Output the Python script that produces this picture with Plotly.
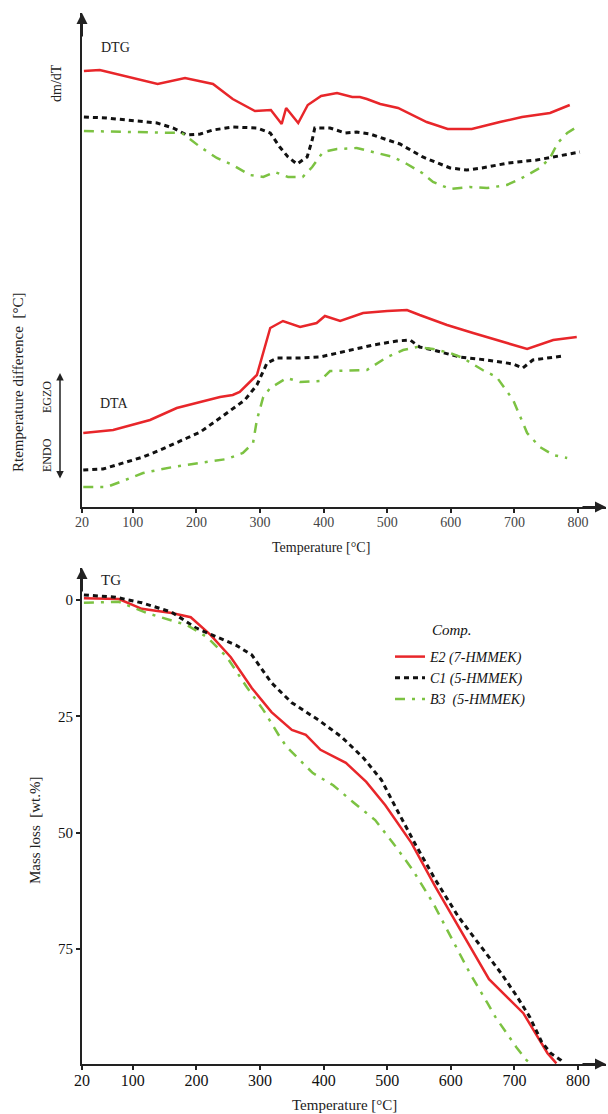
import plotly.graph_objects as go

# ---------------- data ----------------
series_names = ["E2 (7-HMMEK)", "C1 (5-HMMEK)", "B3  (5-HMMEK)"]
x_tick_vals = [20, 100, 200, 300, 400, 500, 600, 700, 800]
x_tick_text = ["20", "100", "200", "300", "400", "500", "600", "700", "800"]
tg_tick_vals = [0, 25, 50, 75]

# DTG (arbitrary units)
temp_dtg_e2 = [23, 48, 139, 182, 226, 257, 292, 317, 334, 341, 360, 375, 396, 421, 445, 457, 468, 489, 517, 562, 595, 633, 677, 712, 756, 787]
dtg_e2 = [436, 437, 423, 429, 423, 408, 396, 397, 383, 399, 384, 402, 411, 414, 410, 410, 408, 403, 399, 385, 378, 378, 385, 390, 394, 402]
temp_dtg_c1 = [23, 59, 138, 163, 185, 206, 226, 257, 295, 316, 331, 344, 358, 374, 382, 386, 410, 434, 452, 473, 496, 520, 556, 599, 625, 649, 690, 735, 761, 803]
dtg_c1 = [390, 389, 384, 379, 372, 373, 377, 380, 379, 374, 360, 350, 343, 350, 367, 379, 379, 374, 375, 373, 368, 363, 350, 339, 337, 339, 344, 347, 350, 355]
temp_dtg_b3 = [23, 100, 154, 177, 206, 232, 257, 284, 305, 323, 344, 360, 367, 382, 399, 421, 452, 484, 509, 531, 555, 572, 599, 630, 657, 688, 709, 740, 756, 768, 783, 798]
dtg_b3 = [376, 375, 374, 374, 360, 349, 342, 332, 330, 335, 330, 330, 330, 340, 355, 358, 359, 354, 350, 343, 334, 325, 318, 320, 319, 322, 328, 339, 349, 364, 374, 380]

# DTA (arbitrary units)
temp_dta_e2 = [22, 69, 127, 169, 206, 237, 257, 268, 295, 316, 336, 363, 389, 402, 426, 462, 500, 531, 551, 594, 635, 677, 720, 761, 798]
dta_e2 = [74, 77, 87, 99, 105, 110, 112, 115, 132, 179, 186, 180, 184, 191, 186, 194, 196, 197, 192, 182, 174, 166, 158, 167, 170]
temp_dta_c1 = [22, 53, 116, 143, 185, 206, 237, 257, 276, 295, 311, 327, 363, 394, 441, 478, 515, 536, 551, 572, 614, 657, 698, 713, 729, 751, 776]
dta_c1 = [37, 38, 50, 57, 69, 75, 89, 98, 107, 122, 144, 149, 149, 150, 157, 162, 166, 167, 160, 157, 150, 147, 143, 139, 147, 149, 151]
temp_dta_b3 = [22, 59, 80, 116, 163, 206, 248, 273, 289, 295, 305, 316, 342, 363, 394, 410, 468, 500, 525, 547, 572, 599, 619, 650, 672, 698, 720, 740, 761, 783]
dta_b3 = [20, 20, 25, 34, 40, 44, 48, 54, 64, 87, 110, 119, 129, 125, 126, 136, 137, 150, 157, 160, 158, 154, 149, 137, 130, 107, 74, 60, 52, 49]

# TG mass loss [wt.%]
temp_tg_e2 = [23, 78, 114, 161, 191, 222, 254, 287, 318, 350, 372, 395, 435, 467, 497, 538, 576, 617, 660, 714, 752, 766]
tg_e2 = [-0.4, -0.2, 1.9, 2.8, 3.7, 7.5, 12.3, 18.9, 24.1, 27.9, 29.0, 32.2, 35.0, 39.1, 44.1, 52.2, 61.7, 71.5, 81.5, 88.8, 97.4, 99.6]
temp_tg_c1 = [23, 73, 114, 161, 199, 224, 262, 287, 318, 350, 356, 392, 428, 463, 491, 513, 545, 576, 612, 648, 679, 703, 724, 743, 757, 773, 778]
tg_c1 = [-1.1, -0.6, 0.6, 2.6, 6.0, 7.5, 9.7, 11.8, 17.8, 22.1, 22.6, 25.8, 29.4, 34.0, 38.7, 44.5, 52.7, 60.2, 68.1, 74.6, 80.2, 85.0, 89.6, 95.0, 97.4, 98.9, 99.6]
temp_tg_b3 = [23, 78, 122, 185, 217, 248, 279, 305, 331, 342, 383, 415, 446, 481, 509, 540, 572, 603, 630, 657, 670, 703, 719, 724]
tg_b3 = [0.6, 0.4, 2.8, 5.4, 8.0, 12.3, 18.7, 23.6, 29.4, 31.6, 37.2, 39.8, 43.4, 47.3, 52.2, 58.0, 65.1, 73.1, 80.2, 86.5, 89.6, 96.1, 98.9, 99.5]

# ---------------- styles ----------------
FONT = "Liberation Serif"
RED, BLACK, GREEN = "#e8262a", "#111111", "#7cc242"
styles = [
    dict(color=RED, width=2.5, dash="solid"),
    dict(color=BLACK, width=3, dash="5px,4px"),
    dict(color=GREEN, width=2.5, dash="10px,7px,3px,7px"),
]

X_RANGE = [20, 844]
TOP_RANGE = [0, 494]
TG_RANGE = [99.72, -6.88]

fig = go.Figure()

top_sets = [(temp_dtg_e2, dtg_e2), (temp_dtg_c1, dtg_c1), (temp_dtg_b3, dtg_b3)]
dta_sets = [(temp_dta_e2, dta_e2), (temp_dta_c1, dta_c1), (temp_dta_b3, dta_b3)]
tg_sets = [(temp_tg_e2, tg_e2), (temp_tg_c1, tg_c1), (temp_tg_b3, tg_b3)]

for i, (xs, ys) in enumerate(top_sets):
    fig.add_trace(go.Scatter(x=xs, y=ys, mode="lines", line=styles[i], name=series_names[i],
                             legendgroup=str(i), showlegend=False, xaxis="x", yaxis="y"))
for i, (xs, ys) in enumerate(dta_sets):
    fig.add_trace(go.Scatter(x=xs, y=ys, mode="lines", line=styles[i], name=series_names[i],
                             legendgroup=str(i), showlegend=False, xaxis="x", yaxis="y"))
for i, (xs, ys) in enumerate(tg_sets):
    fig.add_trace(go.Scatter(x=xs, y=ys, mode="lines", line=styles[i],
                             name="<i>" + series_names[i] + "</i>",
                             legendgroup=str(i), showlegend=True, xaxis="x2", yaxis="y2"))

axis_common = dict(showline=True, linewidth=2, linecolor="#222", showgrid=False, zeroline=False,
                   ticks="outside", ticklen=4, tickwidth=1.5, tickcolor="#222")

H_PLOT = 1051.0
def py(p):
    return (1064 - p) / H_PLOT
def px(p):
    return (p - 82) / 524.0

fig.update_layout(
    width=608, height=1114,
    margin=dict(l=82, r=2, t=13, b=50),
    paper_bgcolor="white", plot_bgcolor="white",
    font=dict(family=FONT, color="#222"),
    xaxis=dict(domain=[0, 1], anchor="y", range=X_RANGE, tickvals=x_tick_vals, ticktext=x_tick_text,
               tickfont=dict(size=14, color="#444", family=FONT), ticklabelstandoff=-3, **axis_common),
    yaxis=dict(domain=[py(507), 1], anchor="x", range=TOP_RANGE, showticklabels=False,
               showline=True, linewidth=2, linecolor="#222", showgrid=False, zeroline=False, ticks=""),
    xaxis2=dict(domain=[0, 1], anchor="y2", range=X_RANGE, tickvals=x_tick_vals, ticktext=x_tick_text,
                tickfont=dict(size=16, color="#111", family=FONT), ticklabelstandoff=-3, **axis_common),
    yaxis2=dict(domain=[0, py(568)], anchor="x2", range=TG_RANGE, tickvals=tg_tick_vals,
                tickfont=dict(size=15, color="#111", family=FONT), **axis_common),
    legend=dict(x=px(390), y=py(641), xanchor="left", yanchor="top", bgcolor="rgba(0,0,0,0)",
                font=dict(family=FONT, size=14, color="#111"), tracegroupgap=0),
    showlegend=True,
)

ann = []
def text(t, x, y, size, angle=0, color="#222"):
    ann.append(dict(text=t, x=px(x), y=py(y), xref="paper", yref="paper", showarrow=False,
                    xanchor="center", yanchor="middle", textangle=angle,
                    font=dict(family=FONT, size=size, color=color)))

text("DTG", 115, 48, 14)
text("dm/dT", 56, 83, 14, -90)
text("Rtemperature difference  [°C]", 18, 383, 15, -90)
text("EGZO", 47, 397, 12, -90)
text("ENDO", 47, 455, 12, -90)
text("DTA", 114, 403, 14)
text("Temperature [°C]", 321, 548, 14)
text("TG", 111, 580, 15)
text("Mass loss  [wt.%]", 35, 830, 15, -90)
text("Temperature [°C]", 344, 1105, 15)
text("<i>Comp.</i>", 452, 630, 15, 0, "#111")

# double arrow ENDO/EGZO
ann.append(dict(text="", x=px(60), y=py(373), xref="paper", yref="paper", ax=0, ay=107,
                showarrow=True, arrowhead=2, startarrowhead=2, arrowside="end+start",
                arrowwidth=1.5, arrowsize=1, startarrowsize=1, arrowcolor="#222"))
# axis arrows
for xr, yr, xv, yv, axo, ayo in [
    ("x", "y", X_RANGE[0], TOP_RANGE[1], 0, 25),
    ("x", "y", X_RANGE[1], TOP_RANGE[0], -25, 0),
    ("x2", "y2", X_RANGE[0], TG_RANGE[1], 0, 25),
    ("x2", "y2", X_RANGE[1], TG_RANGE[0], -25, 0),
]:
    ann.append(dict(text="", x=xv, y=yv, xref=xr, yref=yr, ax=axo, ay=ayo, showarrow=True,
                    arrowhead=2, arrowsize=1.1, arrowwidth=2, arrowcolor="#222"))

fig.update_layout(annotations=ann)
fig.write_html("out.html")
